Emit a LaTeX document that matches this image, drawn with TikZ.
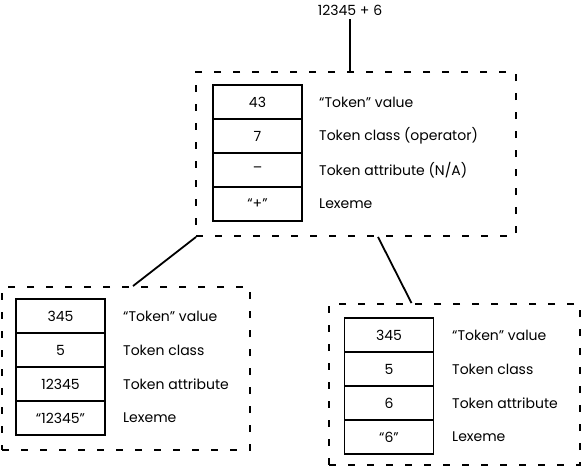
\documentclass[tikz,border=0pt]{standalone}
\usepackage{fontspec}
\setmainfont{Poppins}
\begin{document}
\begin{tikzpicture}[x=1pt,y=-1pt,
  every node/.style={font=\fontsize{14}{16}\selectfont, inner sep=0pt},
  cell/.style={draw, line width=1.8pt, minimum width=89pt, minimum height=34pt},
  lab/.style={anchor=west},
  dbox/.style={draw, line width=1.9pt, dash pattern=on 7pt off 12pt},
  conn/.style={line width=1.8pt}]
\useasboundingbox (0,0) rectangle (582,469);
% title
\node (expr) at (350,10) {12345 + 6};
% dashed frames
\node[dbox, minimum width=320pt, minimum height=164pt] (topbox) at (356,154) {};
\node[dbox, minimum width=248pt, minimum height=163pt] (lbox) at (126,368.5) {};
\node[dbox, minimum width=251pt, minimum height=161pt] (rbox) at (454.5,384.5) {};
% top stack
\node[cell] (t1) at (257.5,102) {43};
\node[cell] (t2) at (257.5,136) {7};
\node[cell] (t3) at (257.5,170) {--};
\node[cell] (t4) at (257.5,204) {“+”};
\node[lab] (tl1) at (319,102) {“Token” value};
\node[lab] (tl2) at (319,136) {Token class (operator)};
\node[lab] (tl3) at (319,170) {Token attribute (N/A)};
\node[lab] (tl4) at (319,204) {Lexeme};
% left stack
\node[cell] (l1) at (60.5,316) {345};
\node[cell] (l2) at (60.5,350) {5};
\node[cell] (l3) at (60.5,384) {12345};
\node[cell] (l4) at (60.5,418) {“12345”};
\node[lab] (ll1) at (123,316) {“Token” value};
\node[lab] (ll2) at (123,350) {Token class};
\node[lab] (ll3) at (123,384) {Token attribute};
\node[lab] (ll4) at (123,418) {Lexeme};
% right stack
\node[cell] (r1) at (389,335) {345};
\node[cell] (r2) at (389,369) {5};
\node[cell] (r3) at (389,403) {6};
\node[cell] (r4) at (389,437) {“6”};
\node[lab] (rl1) at (452,335) {“Token” value};
\node[lab] (rl2) at (452,369) {Token class};
\node[lab] (rl3) at (452,403) {Token attribute};
\node[lab] (rl4) at (452,437) {Lexeme};
% connectors
\draw[conn] ([yshift=-4pt]expr.south) -- (expr.south |- topbox.north);
\draw[conn] ([xshift=1pt]topbox.south west) -- ([xshift=7pt]lbox.north);
\draw[conn] ([xshift=22pt]topbox.south) -- ([xshift=-43pt]rbox.north);
\end{tikzpicture}
\end{document}
